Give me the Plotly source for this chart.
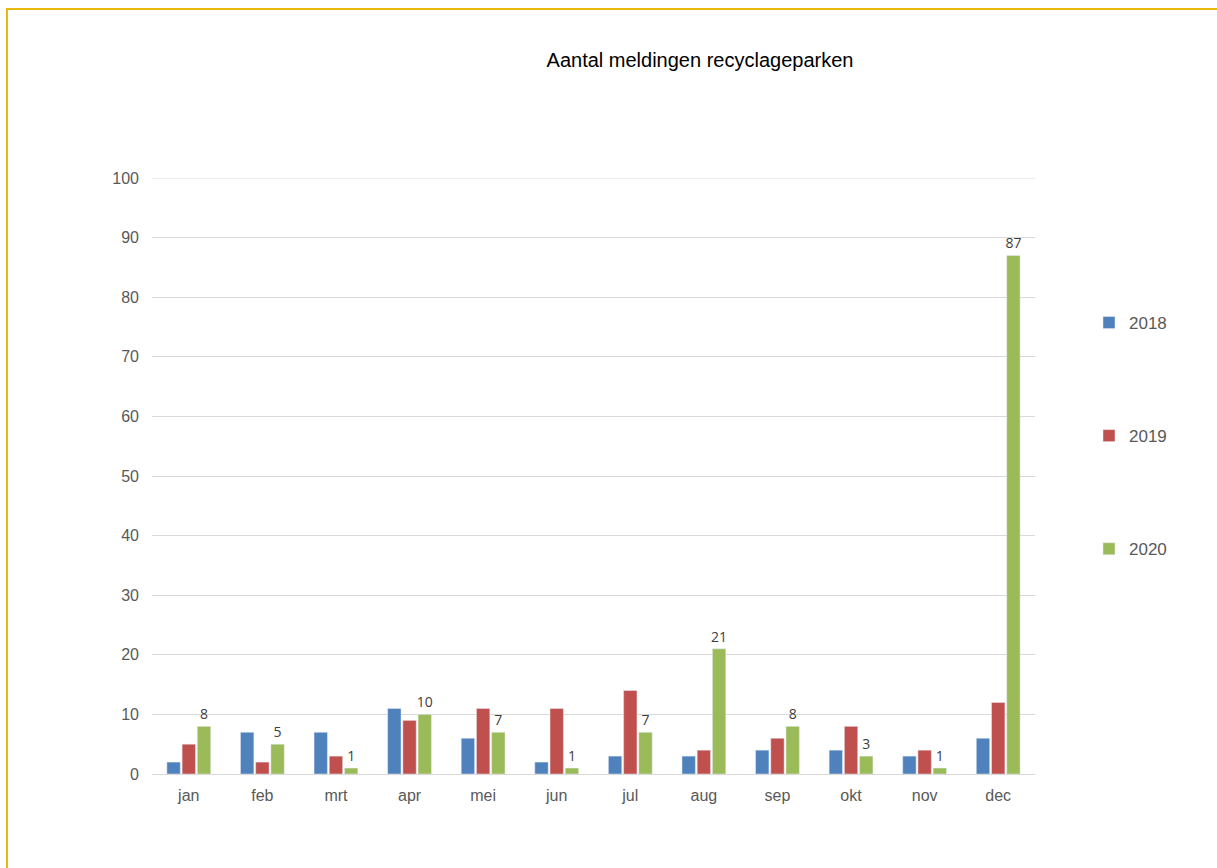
import plotly.graph_objects as go

months = ["jan", "feb", "mrt", "apr", "mei", "jun", "jul", "aug", "sep", "okt", "nov", "dec"]
v2018 = [2, 7, 7, 11, 6, 2, 3, 3, 4, 4, 3, 6]
v2019 = [5, 2, 3, 9, 11, 11, 14, 4, 6, 8, 4, 12]
v2020 = [8, 5, 1, 10, 7, 1, 7, 21, 8, 3, 1, 87]
y_ticks = [0, 10, 20, 30, 40, 50, 60, 70, 80, 90, 100]

W, H = 1217, 868
L, R, T, B = 152, 182, 178, 94
PW, PH = W - L - R, H - T - B


def px_x(px):
    return (px - L) / PW


def px_y(py):
    return (H - B - py) / PH


fig = go.Figure()
fig.add_trace(go.Bar(name="2018", x=months, y=v2018, marker_color="#4F81BD",
                     legendgroup="a"))
fig.add_trace(go.Bar(name="2019", x=months, y=v2019, marker_color="#C0504D",
                     legendgroup="b"))
fig.add_trace(go.Bar(name="2020", x=months, y=v2020, marker_color="#9BBB59",
                     legendgroup="c", text=[str(v) for v in v2020],
                     textposition="outside", cliponaxis=False, constraintext="none",
                     textfont=dict(family="Open Sans", size=14, color="#404040")))

fig.update_layout(
    width=W, height=H,
    margin=dict(l=L, r=R, t=T, b=B),
    paper_bgcolor="white", plot_bgcolor="white",
    barmode="group", bargap=0.38, bargroupgap=0.12,
    font=dict(family="Liberation Sans", color="#595959"),
    title=dict(text="Aantal meldingen recyclageparken", x=700 / W, xanchor="center",
               y=1 - 60 / H, yanchor="middle",
               font=dict(family="Liberation Sans", size=20, color="#000000")),
    legend=dict(x=px_x(1089), xanchor="left", y=px_y(305), yanchor="top",
                tracegroupgap=88, traceorder="grouped",
                font=dict(family="Liberation Sans", size=17, color="#595959"),
                itemwidth=30, bgcolor="rgba(0,0,0,0)"),
    xaxis=dict(showgrid=False, showline=True, linecolor="#D9D9D9", linewidth=1,
               ticks="", tickfont=dict(size=16, color="#595959"),
               ticklabelstandoff=7),
    yaxis=dict(range=[0, 100], tickvals=y_ticks, showgrid=True, gridcolor="#D9D9D9",
               zeroline=False, showline=False, ticks="",
               tickfont=dict(size=16, color="#595959"), ticklabelstandoff=12),
)

# gridline at the top of the value axis
fig.add_shape(type="line", xref="paper", yref="y", x0=0, x1=1, y0=100, y1=100,
              line=dict(color="#D9D9D9", width=1))

# golden frame along the top and left edges
frame = "#E8B80E"
fig.add_shape(type="line", xref="paper", yref="paper",
              x0=px_x(7), x1=px_x(W + 5), y0=px_y(9), y1=px_y(9),
              line=dict(color=frame, width=2))
fig.add_shape(type="line", xref="paper", yref="paper",
              x0=px_x(7), x1=px_x(7), y0=px_y(8), y1=px_y(H + 5),
              line=dict(color=frame, width=2))

fig.write_html("out.html")
